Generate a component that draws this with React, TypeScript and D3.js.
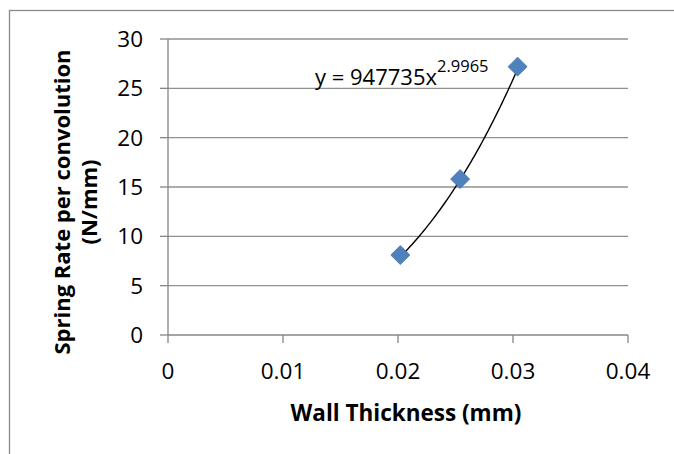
import React from "react";
import * as d3 from "d3";

const wallThickness = [0.0202, 0.0254, 0.0304];
const springRate = [8.1, 15.8, 27.2];
const xTicks = [0, 0.01, 0.02, 0.03, 0.04];
const yTicks = [0, 5, 10, 15, 20, 25, 30];
const fitCoef = [947735];
const fitExp = [2.9965];
const xTitle = "Wall Thickness (mm)";
const yTitleLines = ["Spring Rate per convolution", "(N/mm)"];

const W = 674, H = 454;
const FONT = "'Open Sans', Lato, sans-serif";

export default function App() {
  const x = d3.scaleLinear().domain([0, 0.04]).range([168, 628]);
  const y = d3.scaleLinear().domain([0, 30]).range([335, 39]);
  const xMin = d3.min(wallThickness)!;
  const xMax = d3.max(wallThickness)!;
  const fitX = d3.range(0, 61).map((i) => xMin + ((xMax - xMin) * i) / 60);
  const line = d3
    .line<number>()
    .x((v) => x(v))
    .y((v) => y(fitCoef[0] * Math.pow(v, fitExp[0])))
    .curve(d3.curveLinear);
  const diamond = d3.symbol().type(d3.symbolDiamond2).size(230)();
  const grid = "#909090";
  return (
    <svg
      width={W}
      height={H}
      style={{ position: "fixed", left: 0, top: 0, background: "#fff" }}
      fontFamily={FONT}
    >
      <rect x={9.5} y={10.5} width={800} height={600} fill="#fff" stroke="#8a8a8a" strokeWidth={1.3} />
      {yTicks.filter((t) => t !== 0).map((t) => (
        <line key={"g" + t} x1={x(0)} x2={x(0.04)} y1={y(t)} y2={y(t)} stroke={grid} strokeWidth={1.3} />
      ))}
      <line x1={x(0)} x2={x(0)} y1={y(30)} y2={y(0)} stroke="#868686" strokeWidth={1.3} />
      <line x1={x(0)} x2={x(0.04)} y1={y(0)} y2={y(0)} stroke="#868686" strokeWidth={1.3} />
      {yTicks.map((t) => (
        <g key={"yt" + t}>
          <line x1={x(0) - 8} x2={x(0)} y1={y(t)} y2={y(t)} stroke="#868686" strokeWidth={1.3} />
          <text x={143} y={y(t)} dy="0.36em" textAnchor="end" fontSize={22.5} fill="#000">
            {t}
          </text>
        </g>
      ))}
      {xTicks.map((t) => (
        <g key={"xt" + t}>
          <line x1={x(t)} x2={x(t)} y1={y(0)} y2={y(0) + 8} stroke="#868686" strokeWidth={1.3} />
          <text x={x(t)} y={379} textAnchor="middle" fontSize={22.5} fill="#000">
            {t}
          </text>
        </g>
      ))}
      <path d={line(fitX) || ""} fill="none" stroke="#000" strokeWidth={1.4} />
      {wallThickness.map((v, i) => (
        <path
          key={"p" + i}
          d={diamond || ""}
          transform={`translate(${x(v)},${y(springRate[i])})`}
          fill="#4F81BD"
          stroke="#3f6fa8"
          strokeWidth={0.8}
        />
      ))}
      <text x={315} y={85} fontSize={22} fill="#000">
        {`y = ${fitCoef[0]}x`}
        <tspan fontSize={16.5} dy={-13}>{fitExp[0]}</tspan>
      </text>
      <text x={406} y={421} textAnchor="middle" fontSize={22.5} fontWeight="bold" fill="#000">
        {xTitle}
      </text>
      {yTitleLines.map((s, i) => (
        <text
          key={"yl" + i}
          transform={`translate(${70 + i * 27},202) rotate(-90)`}
          textAnchor="middle"
          fontSize={22}
          fontWeight="bold"
          fill="#000"
        >
          {s}
        </text>
      ))}
    </svg>
  );
}
